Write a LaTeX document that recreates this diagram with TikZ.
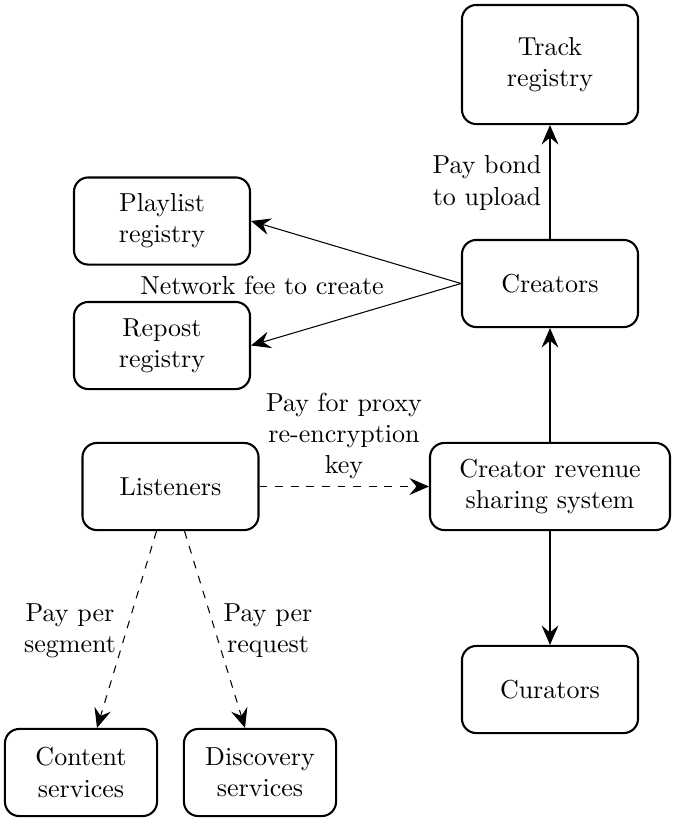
\documentclass[tikz,border=0pt]{standalone}
\usetikzlibrary{arrows.meta,calc}
\begin{document}
\begin{tikzpicture}[x=0.3846pt,y=-0.3846pt,
  box/.style={draw,thick,rounded corners=5.5pt,align=center,minimum width=67.7pt,minimum height=33.5pt,inner sep=2pt},
  conn/.style={-{Stealth[length=7.5pt,width=6.5pt,inset=2.7pt]},line width=0.4pt},
  dconn/.style={conn,dashed},
  lbl/.style={align=center,inner sep=1pt}]
\useasboundingbox (0,0) rectangle (676,821);
\node[box,minimum height=45.8pt] (track) at (550,64.5) {Track\\registry};
\node[box] (creators) at (550,283.5) {Creators};
\node[box] (playlist) at (162,221) {Playlist\\registry};
\node[box] (repost) at (162,345.5) {Repost\\registry};
\node[box] (listeners) at (170.5,486.5) {Listeners};
\node[box,minimum width=92.3pt] (revenue) at (550,486.5) {Creator revenue\\sharing system};
\node[box] (curators) at (550,689.5) {Curators};
\node[box,minimum width=58.5pt] (content) at (81,772.5) {Content\\services};
\node[box,minimum width=58.5pt] (discovery) at (260,772.5) {Discovery\\services};

\node[lbl] (bondlbl) at (487,183) {Pay bond\\to upload};
\node[lbl] (feelbl) at (262,285) {Network fee to create};
\node[lbl] (proxylbl) at (344,436) {Pay for proxy\\re-encryption\\key};
\node[lbl] (seglbl) at (70,631) {Pay per\\segment};
\node[lbl] (reqlbl) at (268,631) {Pay per\\request};

\coordinate (ls1) at ($(listeners.south)+(-14,0)$);
\coordinate (ls2) at ($(listeners.south)+(14,0)$);
\coordinate (cn) at ($(content.north)+(16,0)$);
\coordinate (dn) at ($(discovery.north)+(-15,0)$);

\draw[conn] (creators) -- (track);
\draw[conn] (creators.west) -- (playlist.east);
\draw[conn] (creators.west) -- (repost.east);
\draw[conn] (revenue) -- (creators);
\draw[conn] (revenue) -- (curators);
\draw[dconn] (listeners) -- (revenue);
\draw[dconn] (ls1) -- (cn);
\draw[dconn] (ls2) -- (dn);
\end{tikzpicture}
\end{document}
